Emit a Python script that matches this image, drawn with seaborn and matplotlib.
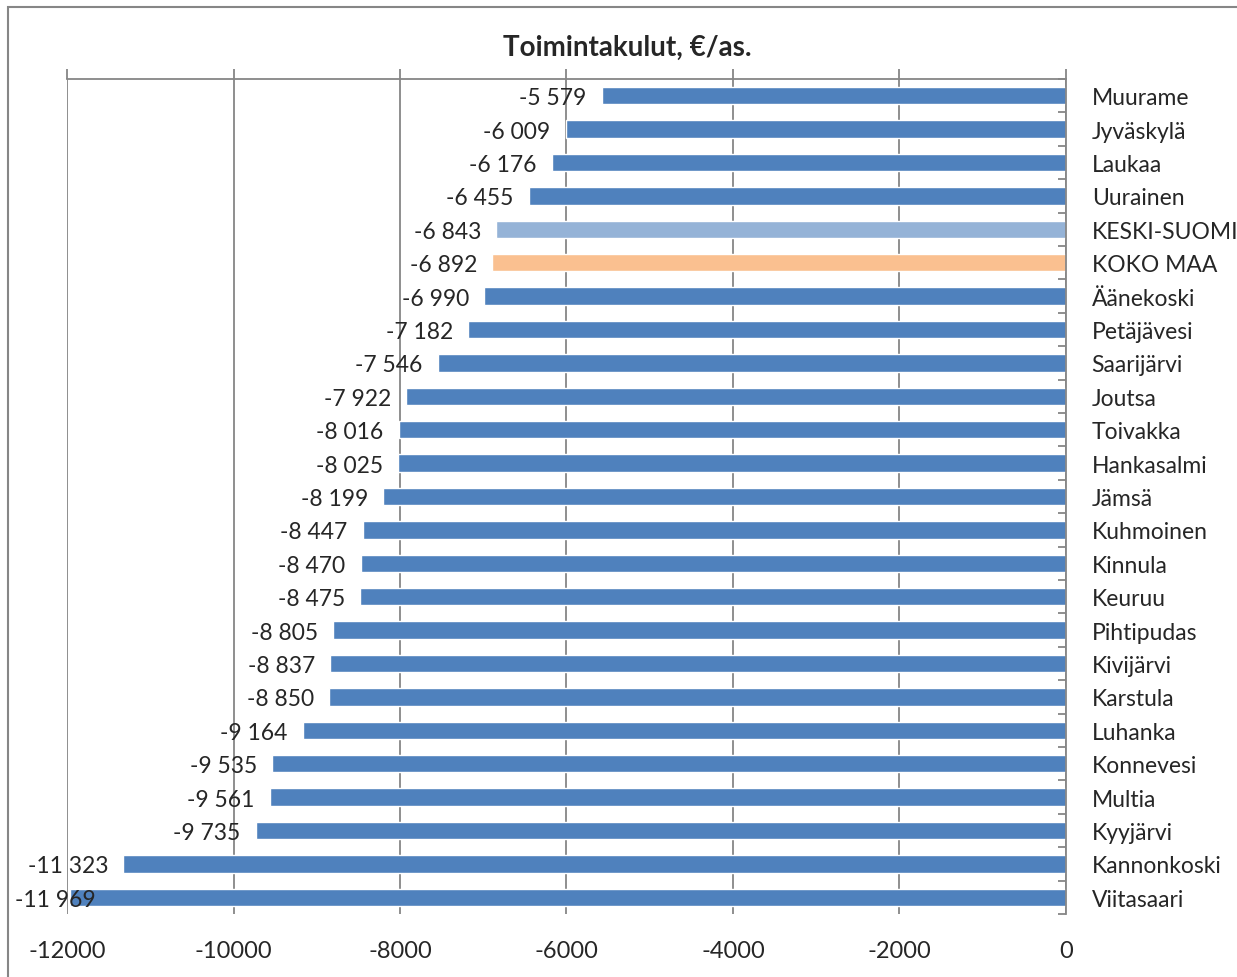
import matplotlib
matplotlib.use("Agg")
import matplotlib.pyplot as plt
import matplotlib.patches as patches
import seaborn as sns
import pandas as pd

# kunnat ja toimintakulut (euroa / asukas)
kunnat = ["Muurame", "Jyväskylä", "Laukaa", "Uurainen", "KESKI-SUOMI", "KOKO MAA",
          "Äänekoski", "Petäjävesi", "Saarijärvi", "Joutsa", "Toivakka", "Hankasalmi",
          "Jämsä", "Kuhmoinen", "Kinnula", "Keuruu", "Pihtipudas", "Kivijärvi",
          "Karstula", "Luhanka", "Konnevesi", "Multia", "Kyyjärvi", "Kannonkoski",
          "Viitasaari"]
kulut = [-5579, -6009, -6176, -6455, -6843, -6892, -6990, -7182, -7546, -7922,
         -8016, -8025, -8199, -8447, -8470, -8475, -8805, -8837, -8850, -9164,
         -9535, -9561, -9735, -11323, -11969]
x_ticks = [-12000, -10000, -8000, -6000, -4000, -2000, 0]

sininen = "#4F81BD"
varit = {k: sininen for k in kunnat}
varit["KESKI-SUOMI"] = "#95B3D7"
varit["KOKO MAA"] = "#FAC090"

data = pd.DataFrame({"kunta": kunnat, "kulut": kulut})

sns.set_style("white")
plt.rcParams["font.family"] = ["Lato", "DejaVu Sans"]

fig = plt.figure(figsize=(12.37, 9.78), dpi=100)
ax = fig.add_axes([67/1237, 1-915/978, (1066-67)/1237, (915-80)/978])

sns.barplot(data=data, y="kunta", x="kulut", hue="kunta", palette=varit,
            orient="h", width=0.52, legend=False, ax=ax, saturation=1)

ax.set_xlim(-12000, 0)
ax.set_ylim(len(kunnat) - 0.5, -0.5)
ax.set_xticks(x_ticks)
ax.set_xticklabels([str(t) for t in x_ticks], fontsize=17)
ax.grid(axis="x", color="#868686", lw=1.3)
ax.set_axisbelow(True)
ax.set_xlabel("")
ax.set_ylabel("")

for side in ["left", "bottom"]:
    ax.spines[side].set_visible(False)
for side in ["top", "right"]:
    ax.spines[side].set_visible(True)
    ax.spines[side].set_color("#868686")
    ax.spines[side].set_linewidth(1.3)

ax.tick_params(axis="x", bottom=False, top=True, labelbottom=True, labeltop=False,
               direction="out", length=7, color="#868686", width=1.3, pad=12)
ax.yaxis.tick_right()
ax.set_yticks(range(len(kunnat)))
ax.set_yticklabels(kunnat, fontsize=16.5)
ax.tick_params(axis="y", which="major", length=0, pad=18.5)
ax.set_yticks([i + 0.5 for i in range(-1, len(kunnat))], minor=True)
ax.tick_params(axis="y", which="minor", right=True, direction="in", length=6,
               color="#868686", width=1.3)

# arvot palkkien päähän
for i, v in enumerate(kulut):
    teksti = f"{v:,}".replace(",", " ")
    if v < -11500:
        ax.annotate(teksti, xy=(0, i), xycoords=("axes fraction", "data"),
                    xytext=(-37.5, -1.5), textcoords="offset points",
                    ha="left", va="center", fontsize=16.5)
    else:
        ax.annotate(teksti, xy=(v, i), xytext=(-11, -1.5), textcoords="offset points",
                    ha="right", va="center", fontsize=16.5)

fig.text(627/1237, 1-48/978, "Toimintakulut, €/as.", ha="center", va="center",
         fontsize=20, fontweight="bold")

fig.patches.append(patches.Rectangle((8/1237, -0.1), 1.2, 1.1 - 8/978,
                                     transform=fig.transFigure, fill=False,
                                     ec="#868686", lw=1.5))

fig.savefig("out.png", dpi=100)
